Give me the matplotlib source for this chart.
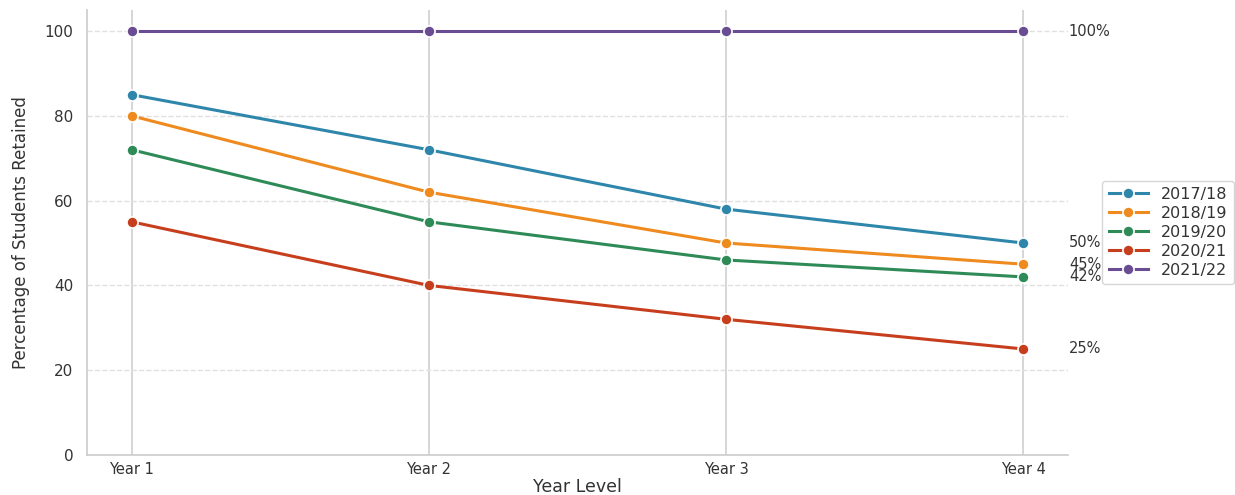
import matplotlib
matplotlib.use("Agg")
import matplotlib.pyplot as plt

years = ["Year 1", "Year 2", "Year 3", "Year 4"]
series_names = ["2017/18", "2018/19", "2019/20", "2020/21", "2021/22"]
v2017 = [85, 72, 58, 50]
v2018 = [80, 62, 50, 45]
v2019 = [72, 55, 46, 42]
v2020 = [55, 40, 32, 25]
v2021 = [100, 100, 100, 100]
colors = ["#2E86AB", "#EE8A1E", "#2E8B57", "#C73E1D", "#6A4C93"]

values = [v2017, v2018, v2019, v2020, v2021]

fig = plt.figure(figsize=(12.35, 4.95), dpi=100)
ax = fig.add_axes([0.0705, 0.081, 0.794, 0.899])

x = list(range(len(years)))
for name, vals, c in zip(series_names, values, colors):
    ax.plot(x, vals, color=c, lw=2.2, marker="o", markersize=8,
            markeredgecolor="white", markeredgewidth=1.2, label=name)
    ax.annotate(f"{vals[-1]}%", xy=(x[-1], vals[-1]), xytext=(33, 0),
                textcoords="offset points", va="center", ha="left",
                fontsize=10.5, color="#333333")

ax.set_xlim(-0.15, 3.15)
ax.set_ylim(0, 105)
ax.set_xticks(x)
ax.set_xticklabels(years)
ax.set_yticks([0, 20, 40, 60, 80, 100])
ax.tick_params(axis="y", length=0, labelsize=11, colors="#333333", pad=10)
ax.tick_params(axis="x", length=0, labelsize=10.5, colors="#333333", pad=5)

ax.grid(axis="x", color="#d0d0d0", lw=1.2, ls="-")
ax.grid(axis="y", color="#e0e0e0", lw=1, ls="--")
ax.set_axisbelow(True)

for s in ["top", "right"]:
    ax.spines[s].set_visible(False)
for s in ["left", "bottom"]:
    ax.spines[s].set_color("#cccccc")
    ax.spines[s].set_linewidth(1.2)

ax.set_xlabel("Year Level", fontsize=12.5, color="#333333", labelpad=1)
ax.set_ylabel("Percentage of Students Retained", fontsize=12, color="#333333", labelpad=10)

leg = ax.legend(loc="center left", bbox_to_anchor=(1.027, 0.5), fontsize=11.5,
                frameon=True, edgecolor="#cccccc", handlelength=2.5,
                borderpad=0.4, labelspacing=0.25)
for t in leg.get_texts():
    t.set_color("#333333")

fig.savefig("out.png", dpi=100)
